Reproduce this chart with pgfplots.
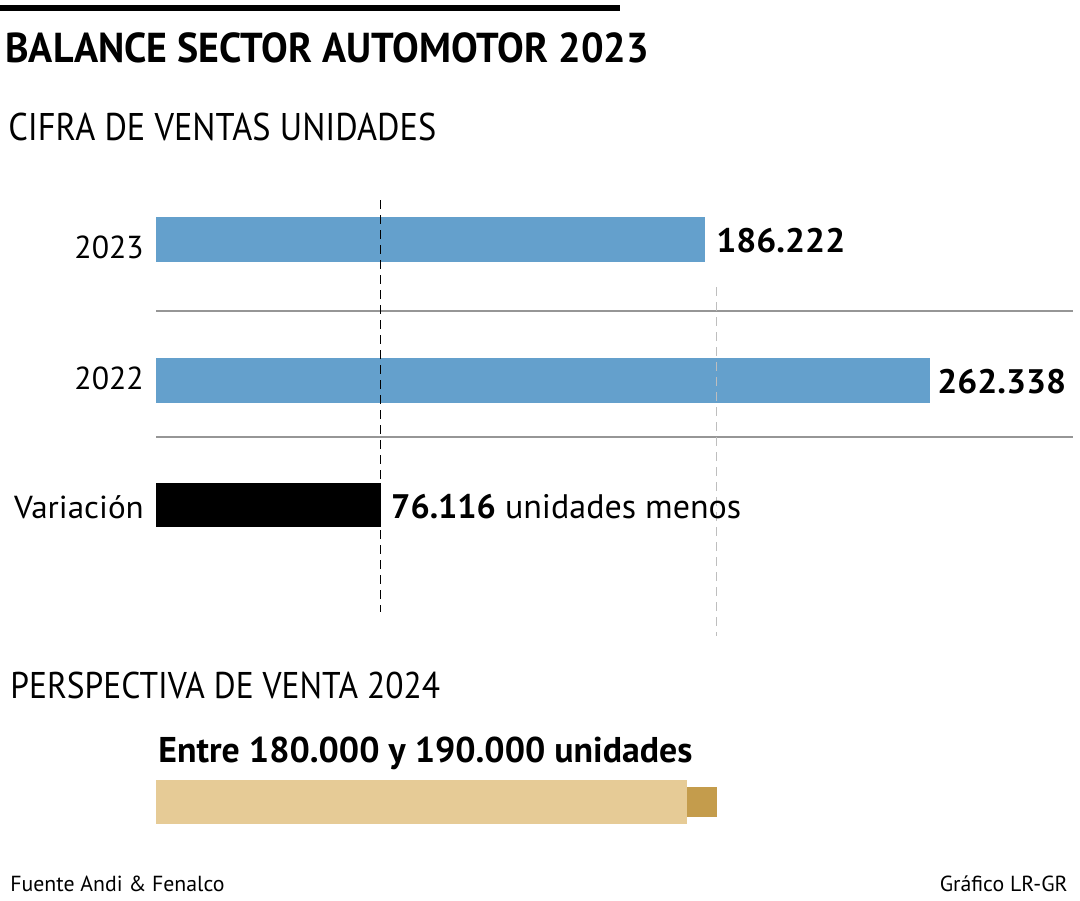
\documentclass[border=0pt]{standalone}
\usepackage{pgfplots}
\pgfplotsset{compat=1.18}
\usepackage{graphicx}
\usepackage{fontspec}
\setmainfont{PT Sans}
\definecolor{barblue}{RGB}{100,160,204}
\definecolor{tanlight}{RGB}{230,203,150}
\definecolor{tandark}{RGB}{196,156,76}
\definecolor{gridgrey}{RGB}{150,150,150}
\definecolor{dashgrey}{RGB}{190,190,190}
\pgfplotsset{hbar/.style={xbar, bar shift=0, draw=none}}
\begin{document}
\begin{tikzpicture}
\begin{axis}[
  width=540pt, height=450pt, scale only axis,
  axis lines=none, clip=false,
  xmin=-52881, xmax=313220, ymin=0, ymax=900,
  y dir=reverse,
]
\fill[white] (rel axis cs:0,0) rectangle (rel axis cs:1,1);
% top rule
\fill[black] (axis cs:-52881,5) rectangle (axis cs:157288,11);
% titles
\node[anchor=base west, inner sep=0pt, font=\fontsize{20.9pt}{24pt}\selectfont\bfseries] at (axis cs:-51200,62) {\scalebox{0.955}[1]{BALANCE SECTOR AUTOMOTOR 2023}};
\node[anchor=base west, inner sep=0pt, font=\fontsize{19.3pt}{22pt}\selectfont] at (axis cs:-50200,140) {\scalebox{0.89}[1]{CIFRA DE VENTAS UNIDADES}};
% grid lines
\addplot[draw=gridgrey, line width=0.6pt, forget plot] coordinates {(0,311) (310847,311)};
\addplot[draw=gridgrey, line width=0.6pt, forget plot] coordinates {(0,437) (310847,437)};
% bars
\addplot[hbar, fill=barblue, bar width=45] coordinates {(186222,239.5)};
\addplot[hbar, fill=barblue, bar width=45] coordinates {(262338,380.5)};
\addplot[hbar, fill=black, bar width=44] coordinates {(76116,505)};
% dashed reference lines
\addplot[draw=dashgrey, line width=0.7pt, dash pattern=on 4.5pt off 3pt, forget plot] coordinates {(190000,287) (190000,636)};
\addplot[draw=black, line width=0.7pt, dash pattern=on 4.5pt off 3pt, forget plot] coordinates {(76116,200) (76116,612)};
% category labels
\node[anchor=base east, inner sep=0pt, font=\fontsize{15.9pt}{18pt}\selectfont] at (axis cs:-4000,258) {2023};
\node[anchor=base east, inner sep=0pt, font=\fontsize{15.9pt}{18pt}\selectfont] at (axis cs:-4000,389) {2022};
\node[anchor=base east, inner sep=0pt, font=\fontsize{15.9pt}{18pt}\selectfont] at (axis cs:-4000,518) {\scalebox{1.04}[1]{Variación}};
% value labels
\node[anchor=base west, inner sep=0pt, font=\fontsize{17pt}{20pt}\selectfont\bfseries] at (axis cs:189800,252) {\scalebox{1.04}[1]{186.222}};
\node[anchor=base west, inner sep=0pt, font=\fontsize{17pt}{20pt}\selectfont\bfseries] at (axis cs:264700,393) {\scalebox{1.04}[1]{262.338}};
\node[anchor=base west, inner sep=0pt, font=\fontsize{17pt}{20pt}\selectfont] at (axis cs:79600,518) {\textbf{76.116} unidades menos};
% perspective
\node[anchor=base west, inner sep=0pt, font=\fontsize{18.6pt}{22pt}\selectfont] at (axis cs:-49500,698) {\scalebox{0.9}[1]{PERSPECTIVA DE VENTA 2024}};
\node[anchor=base west, inner sep=0pt, font=\fontsize{17.9pt}{21pt}\selectfont\bfseries] at (axis cs:700,762) {Entre 180.000 y 190.000 unidades};
\addplot[hbar, fill=tandark, bar width=30] coordinates {(190000,802)};
\addplot[hbar, fill=tanlight, bar width=44] coordinates {(180000,802)};
% footer
\node[anchor=base west, inner sep=0pt, font=\fontsize{10.9pt}{13pt}\selectfont] at (axis cs:-49500,891) {Fuente Andi \& Fenalco};
\node[anchor=base east, inner sep=0pt, font=\fontsize{10.9pt}{13pt}\selectfont] at (axis cs:309150,891) {Gráfico LR-GR};
\end{axis}
\end{tikzpicture}
\end{document}
